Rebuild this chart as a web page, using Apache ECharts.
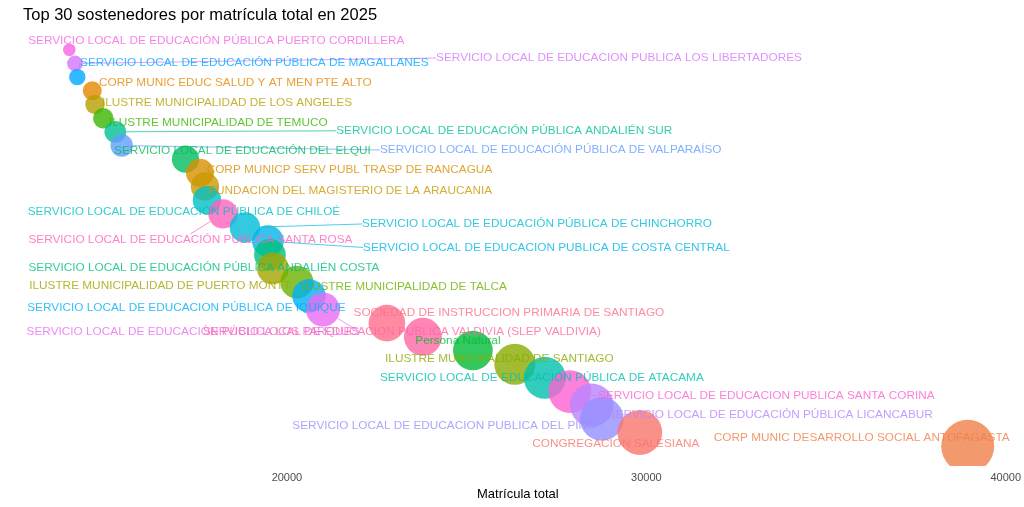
<!DOCTYPE html>
<html>
<head>
<meta charset="utf-8">
<script src="https://cdn.jsdelivr.net/npm/echarts@6/dist/echarts.min.js"></script>
<style>
  html, body { margin: 0; padding: 0; background: #fff; }
  #chart { width: 1024px; height: 507px; }
</style>
</head>
<body>
<div id="chart"></div>
<script>
  // sostenedores ordered from smallest to largest enrolment (top to bottom in the plot)
  const sostenedores = [
    'SERVICIO LOCAL DE EDUCACIÓN PÚBLICA PUERTO CORDILLERA',
    'SERVICIO LOCAL DE EDUCACION PUBLICA LOS LIBERTADORES',
    'SERVICIO LOCAL DE EDUCACIÓN PÚBLICA DE MAGALLANES',
    'CORP MUNIC EDUC SALUD Y AT MEN PTE ALTO',
    'ILUSTRE MUNICIPALIDAD DE LOS ANGELES',
    'ILUSTRE MUNICIPALIDAD DE TEMUCO',
    'SERVICIO LOCAL DE EDUCACIÓN PÚBLICA ANDALIÉN SUR',
    'SERVICIO LOCAL DE EDUCACIÓN PÚBLICA DE VALPARAÍSO',
    'SERVICIO LOCAL DE EDUCACIÓN DEL ELQUI',
    'CORP MUNICP SERV PUBL TRASP DE RANCAGUA',
    'FUNDACION DEL MAGISTERIO DE LA ARAUCANIA',
    'SERVICIO LOCAL DE EDUCACIÓN PÚBLICA DE CHILOÉ',
    'SERVICIO LOCAL DE EDUCACIÓN PUBLICA SANTA ROSA',
    'SERVICIO LOCAL DE EDUCACIÓN PÚBLICA DE CHINCHORRO',
    'SERVICIO LOCAL DE EDUCACION PUBLICA DE COSTA CENTRAL',
    'SERVICIO LOCAL DE EDUCACIÓN PÚBLICA ANDALIÉN COSTA',
    'ILUSTRE MUNICIPALIDAD DE PUERTO MONTT',
    'ILUSTRE MUNICIPALIDAD DE TALCA',
    'SERVICIO LOCAL DE EDUCACION PÚBLICA DE IQUIQUE',
    'SERVICIO LOCAL DE EDUCACIÓN PÚBLICA LOS PARQUES',
    'SOCIEDAD DE INSTRUCCION PRIMARIA DE SANTIAGO',
    'SERVICIO LOCAL DE EDUCACION PUBLICA VALDIVIA (SLEP VALDIVIA)',
    'Persona Natural',
    'ILUSTRE MUNICIPALIDAD DE SANTIAGO',
    'SERVICIO LOCAL DE EDUCACIÓN PÚBLICA DE ATACAMA',
    'SERVICIO LOCAL DE EDUCACION PUBLICA SANTA CORINA',
    'SERVICIO LOCAL DE EDUCACIÓN PÚBLICA LICANCABUR',
    'SERVICIO LOCAL DE EDUCACION PUBLICA DEL PINO',
    'CONGREGACION SALESIANA',
    'CORP MUNIC DESARROLLO SOCIAL ANTOFAGASTA'
  ]

  const matricula = [
    13944, 14103, 14167, 14584, 14659, 14890, 15224, 15402, 17177, 17580,
    17719, 17775, 18220, 18832, 19471, 19527, 19611, 20278, 20612, 21001,
    22782, 23783, 25174, 26342, 27177, 27872, 28484, 28762, 29819, 38943
  ]

  const xTicks = [20000, 30000, 40000]

  // label placement (offset of label centre from its bubble, px)
  const labelOffsets = [
    [147, -9], [544, -5.5], [177, -14], [143, -8], [132, -1.5],
    [115, 5], [389, -1], [429, 4.5], [57, -8], [149.5, -3],
    [145.5, 4.5], [-23, 12], [-32.5, 26], [292, -3.5], [278.5, 6.3],
    [-66, 12.6], [-113, 17.5], [107.5, 5], [-122.5, 11.6], [-130, 22],
    [122, -10.7], [-21, -5], [-15, -9.5], [-15.5, -5], [-3, 0],
    [196.5, 4.5], [178.5, 10], [-157.5, 7], [-24, 11.5], [-106, -8]
  ]
  const withSegment = [1, 2, 6, 7, 12, 13, 14, 19, 25]

  const FONT = '"Liberation Sans", Arial, sans-serif'

  // ggplot2 hue palette (hcl, l = 65, c = 100)
  function hcl(h, c, l) {
    const hr = h * Math.PI / 180
    const U = c * Math.cos(hr)
    const V = c * Math.sin(hr)
    const Xn = 95.047, Yn = 100, Zn = 108.883
    const un = 4 * Xn / (Xn + 15 * Yn + 3 * Zn)
    const vn = 9 * Yn / (Xn + 15 * Yn + 3 * Zn)
    const Y = l > 8 ? Yn * Math.pow((l + 16) / 116, 3) : Yn * l / 903.3
    const u = U / (13 * l) + un
    const v = V / (13 * l) + vn
    const X = Y * 9 * u / (4 * v)
    const Z = Y * (12 - 3 * u - 20 * v) / (4 * v)
    const lin = [
      3.240479 * X - 1.537150 * Y - 0.498535 * Z,
      -0.969256 * X + 1.875992 * Y + 0.041556 * Z,
      0.055648 * X - 0.204043 * Y + 1.057311 * Z
    ].map((c) => c / 100)
    const gam = lin.map((c) => {
      const g = c <= 0.0031308 ? 12.92 * c : 1.055 * Math.pow(c, 1 / 2.4) - 0.055
      return Math.round(Math.max(0, Math.min(1, g)) * 255)
    })
    return '#' + gam.map((n) => n.toString(16).padStart(2, '0')).join('')
  }

  const sortKey = (s) => s.normalize('NFD').replace(/[\u0300-\u036f]/g, '').toUpperCase()
  const levels = [...sostenedores].sort((a, b) => {
    const ka = sortKey(a), kb = sortKey(b)
    return ka < kb ? -1 : ka > kb ? 1 : 0
  })
  const colorOf = (name) => hcl(15 + 360 / levels.length * levels.indexOf(name), 100, 65)

  const vMin = Math.min(...matricula)
  const vMax = Math.max(...matricula)
  const radius = (v) => 6.3 + 20.2 * Math.sqrt((v - vMin) / (vMax - vMin))

  const n = sostenedores.length
  const points = sostenedores.map((name, i) => {
    const color = colorOf(name)
    return {
      name,
      value: [matricula[i], n - i],
      itemStyle: { color, opacity: 0.8 },
      label: { color },
      labelLine: { show: withSegment.includes(i), lineStyle: { color, width: 0.7 } }
    }
  })

  const chart = echarts.init(document.getElementById('chart'), null, { renderer: 'canvas' })

  chart.setOption({
    animation: false,
    backgroundColor: '#ffffff',
    title: {
      text: 'Top 30 sostenedores por matrícula total en 2025',
      left: 23,
      top: 7,
      padding: 0,
      textStyle: { fontFamily: FONT, fontSize: 16.5, fontWeight: 'normal', color: '#000000' }
    },
    grid: { left: 23, right: 11, top: 30, bottom: 41, containLabel: false },
    xAxis: {
      type: 'value',
      min: 12656,
      max: 40195,
      name: 'Matrícula total',
      nameLocation: 'middle',
      nameGap: 20,
      nameTextStyle: { fontFamily: FONT, fontSize: 13, color: '#000000' },
      axisLine: { show: false },
      axisTick: { show: false },
      splitLine: { show: false },
      axisLabel: {
        customValues: xTicks,
        formatter: (v) => String(v),
        fontFamily: FONT,
        fontSize: 11,
        color: '#4D4D4D',
        margin: 6
      }
    },
    yAxis: {
      type: 'value',
      min: -0.45,
      max: 31.45,
      show: false
    },
    // panel clipping below the plotting area (bubbles are cut at the panel edge)
    graphic: [
      {
        type: 'rect',
        z: 100,
        silent: true,
        shape: { x: 930, y: 466, width: 57, height: 12 },
        style: { fill: '#ffffff' }
      }
    ],
    series: [
      {
        type: 'scatter',
        data: points,
        symbol: 'circle',
        symbolSize: (val) => 2 * radius(val[0]),
        label: {
          show: true,
          position: 'inside',
          formatter: (p) => p.name,
          fontFamily: FONT,
          fontSize: 11.8
        },
        labelLayout: (params) => {
          const o = labelOffsets[params.dataIndex]
          return { dx: o[0], dy: o[1] }
        },
        emphasis: { disabled: true }
      }
    ]
  })
</script>
</body>
</html>
